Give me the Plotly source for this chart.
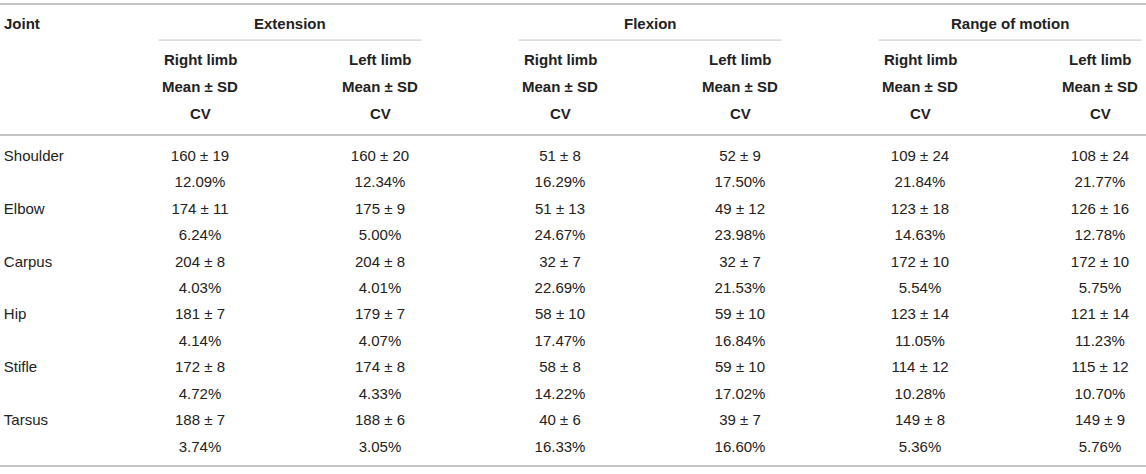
import plotly.graph_objects as go

# ---- data -------------------------------------------------------------
joints = ["Shoulder", "Elbow", "Carpus", "Hip", "Stifle", "Tarsus"]

groups = ["Extension", "Flexion", "Range of motion"]
limbs = ["Right limb", "Left limb"]

ext_right_mean = [160, 174, 204, 181, 172, 188]
ext_right_sd = [19, 11, 8, 7, 8, 7]
ext_right_cv = [12.09, 6.24, 4.03, 4.14, 4.72, 3.74]

ext_left_mean = [160, 175, 204, 179, 174, 188]
ext_left_sd = [20, 9, 8, 7, 8, 6]
ext_left_cv = [12.34, 5.00, 4.01, 4.07, 4.33, 3.05]

flex_right_mean = [51, 51, 32, 58, 58, 40]
flex_right_sd = [8, 13, 7, 10, 8, 6]
flex_right_cv = [16.29, 24.67, 22.69, 17.47, 14.22, 16.33]

flex_left_mean = [52, 49, 32, 59, 59, 39]
flex_left_sd = [9, 12, 7, 10, 10, 7]
flex_left_cv = [17.50, 23.98, 21.53, 16.84, 17.02, 16.60]

rom_right_mean = [109, 123, 172, 123, 114, 149]
rom_right_sd = [24, 18, 10, 14, 12, 8]
rom_right_cv = [21.84, 14.63, 5.54, 11.05, 10.28, 5.36]

rom_left_mean = [108, 126, 172, 121, 115, 149]
rom_left_sd = [24, 16, 10, 14, 12, 9]
rom_left_cv = [21.77, 12.78, 5.75, 11.23, 10.70, 5.76]

columns = [
    (ext_right_mean, ext_right_sd, ext_right_cv),
    (ext_left_mean, ext_left_sd, ext_left_cv),
    (flex_right_mean, flex_right_sd, flex_right_cv),
    (flex_left_mean, flex_left_sd, flex_left_cv),
    (rom_right_mean, rom_right_sd, rom_right_cv),
    (rom_left_mean, rom_left_sd, rom_left_cv),
]

# ---- layout constants (axis units: x = column index, y = text line) ----
FONT = "Liberation Sans, Arial, Helvetica, sans-serif"
TEXT = "#222222"
RULE = "#c4c4c4"
SIZE = 15

JOINT_X = -0.09
Y_GROUP, Y_LIMB, Y_STAT, Y_CV = -5.03, -3.67, -2.65, -1.66
Y_TOP, Y_UNDER, Y_HEAD, Y_BOTTOM = -5.785, -4.42, -0.83, 11.68
HALF_SPAN = 0.73

fig = go.Figure()

# joint names, left aligned
fig.add_trace(go.Scatter(
    x=[JOINT_X] * len(joints),
    y=[2 * i for i in range(len(joints))],
    text=joints,
    mode="text",
    textposition="middle right",
    textfont={"family": FONT, "size": SIZE, "color": TEXT},
    hoverinfo="skip",
))

# body cells: "mean ± SD" line, then CV line
for c, (means, sds, cvs) in enumerate(columns, start=1):
    cells, rows = [], []
    for i, (m, s, cv) in enumerate(zip(means, sds, cvs)):
        cells += [f"{m} ± {s}", f"{cv:.2f}%"]
        rows += [2 * i, 2 * i + 1]
    fig.add_trace(go.Scatter(
        x=[c] * len(cells),
        y=rows,
        text=cells,
        mode="text",
        textposition="middle center",
        textfont={"family": FONT, "size": SIZE, "color": TEXT},
        hoverinfo="skip",
    ))

# header text
bold = {"family": FONT, "size": SIZE, "color": TEXT, "weight": "bold"}
fig.add_annotation(x=JOINT_X - 0.01, y=Y_GROUP, text="<b>Joint</b>", xanchor="left",
                   showarrow=False, font=bold, xref="x", yref="y")
for g, name in enumerate(groups):
    center = 1.5 + 2 * g
    fig.add_annotation(x=center, y=Y_GROUP, text=f"<b>{name}</b>",
                       showarrow=False, font=bold, xref="x", yref="y")
    fig.add_shape(type="line", xref="x", yref="y",
                  x0=center - HALF_SPAN, x1=center + HALF_SPAN, y0=Y_UNDER, y1=Y_UNDER,
                  line={"color": RULE, "width": 1})
    for k, limb in enumerate(limbs):
        cx = 1 + 2 * g + k
        for yy, label in [(Y_LIMB, limb), (Y_STAT, "Mean ± SD"), (Y_CV, "CV")]:
            fig.add_annotation(x=cx, y=yy, text=f"<b>{label}</b>",
                               showarrow=False, font=bold, xref="x", yref="y")

# horizontal rules across the full width
for yy in (Y_TOP, Y_HEAD, Y_BOTTOM):
    fig.add_shape(type="line", xref="paper", yref="y", x0=0, x1=1, y0=yy, y1=yy,
                  line={"color": RULE, "width": 2})

fig.update_layout(
    width=1146,
    height=474,
    margin={"l": 0, "r": 0, "t": 0, "b": 0},
    paper_bgcolor="white",
    plot_bgcolor="white",
    showlegend=False,
    xaxis={"range": [-20 / 180, 1126 / 180], "visible": False, "fixedrange": True},
    yaxis={"range": [(474 - 157) / 26.45, -157 / 26.45], "visible": False, "fixedrange": True},
)

# drop the browser's default body margin so the table sits flush in the window
fig.write_html("out.html", config={"displayModeBar": False},
               post_script="document.body.style.margin='0';document.body.style.overflow='hidden';")
